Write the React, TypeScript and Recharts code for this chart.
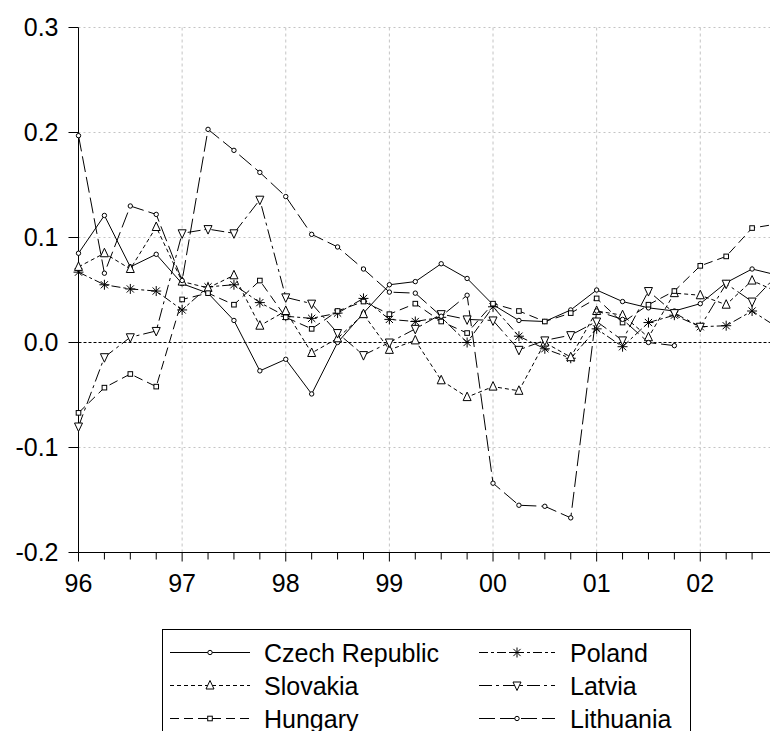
import { LineChart, Line, XAxis, YAxis, ReferenceLine } from 'recharts';

// quarterly observations, 1996Q1 .. 2002Q4
const quarters = [
  '96Q1', '96Q2', '96Q3', '96Q4', '97Q1', '97Q2', '97Q3', '97Q4',
  '98Q1', '98Q2', '98Q3', '98Q4', '99Q1', '99Q2', '99Q3', '99Q4',
  '00Q1', '00Q2', '00Q3', '00Q4', '01Q1', '01Q2', '01Q3', '01Q4',
  '02Q1', '02Q2', '02Q3', '02Q4',
];
const yearLabels = ['96', '97', '98', '99', '00', '01', '02'];
const yTicks = [-0.2, -0.1, 0, 0.1, 0.2, 0.3];

const czech = [
  0.085, 0.121, 0.072, 0.084, 0.056, 0.047, 0.021, -0.027,
  -0.016, -0.049, 0.0, 0.028, 0.055, 0.058, 0.075, 0.061,
  0.036, 0.021, 0.020, 0.031, 0.050, 0.039, 0.033, 0.030,
  0.037, 0.057, 0.070, 0.064,
];
const poland = [
  0.067, 0.055, 0.051, 0.049, 0.031, 0.053, 0.055, 0.038,
  0.025, 0.023, 0.028, 0.042, 0.022, 0.020, 0.024, 0.0,
  0.034, 0.006, -0.006, -0.015, 0.013, -0.004, 0.019, 0.026,
  0.015, 0.016, 0.030, 0.014,
];
const slovakia = [
  0.072, 0.085, 0.070, 0.110, 0.058, 0.052, 0.064, 0.016,
  0.030, -0.010, 0.004, 0.027, -0.007, 0.002, -0.036, -0.052,
  -0.042, -0.046, 0.0, -0.014, 0.030, 0.026, 0.005, 0.047,
  0.045, 0.036, 0.059, 0.048,
];
const latvia = [
  -0.080, -0.014, 0.005, 0.011, 0.104, 0.108, 0.104, 0.136,
  0.043, 0.037, 0.009, -0.012, 0.0, 0.013, 0.027, 0.022,
  0.021, -0.007, 0.002, 0.007, 0.020, 0.002, 0.049, 0.028,
  0.015, 0.056, 0.039, 0.065,
];
const hungary = [
  -0.067, -0.043, -0.030, -0.042, 0.041, 0.047, 0.036, 0.059,
  0.024, 0.013, 0.030, 0.039, 0.027, 0.037, 0.020, 0.009,
  0.037, 0.030, 0.020, 0.028, 0.042, 0.019, 0.036, 0.049,
  0.073, 0.082, 0.109, 0.113,
];
const lithuania = [
  0.197, 0.066, 0.130, 0.122, 0.059, 0.203, 0.183, 0.162,
  0.139, 0.103, 0.091, 0.070, 0.048, 0.047, 0.025, 0.045,
  -0.134, -0.155, -0.156, -0.167, 0.030, 0.022, 0.0, -0.003,
  null, null, null, null,
];

const FONT = 'Arial, "Liberation Sans", sans-serif';
const GRID = '#c4c4c4';

type Shape = 'circle' | 'square' | 'tri' | 'triDown' | 'star';

const SERIES: { key: string; name: string; values: (number | null)[]; dash?: string; shape: Shape }[] = [
  { key: 'czech', name: 'Czech Republic', values: czech, shape: 'circle' },
  { key: 'poland', name: 'Poland', values: poland, dash: '9 3 3 3', shape: 'star' },
  { key: 'slovakia', name: 'Slovakia', values: slovakia, dash: '4 3', shape: 'tri' },
  { key: 'latvia', name: 'Latvia', values: latvia, dash: '13 4 3 4', shape: 'triDown' },
  { key: 'hungary', name: 'Hungary', values: hungary, dash: '9 5', shape: 'square' },
  { key: 'lithuania', name: 'Lithuania', values: lithuania, dash: '16 5', shape: 'circle' },
];

const rows = quarters.map((q, i) => {
  const r: Record<string, any> = { i, q };
  SERIES.forEach(s => { r[s.key] = s.values[i]; });
  return r;
});

function Marker({ shape, cx, cy }: { shape: Shape; cx: number; cy: number }) {
  const st = { stroke: '#000', strokeWidth: 1, fill: '#fff' };
  switch (shape) {
    case 'circle':
      return <circle cx={cx} cy={cy} r={2.2} {...st} />;
    case 'square':
      return <rect x={cx - 2.3} y={cy - 2.3} width={4.6} height={4.6} {...st} />;
    case 'tri':
      return <polygon points={`${cx},${cy - 5} ${cx - 4},${cy + 3.5} ${cx + 4},${cy + 3.5}`} {...st} />;
    case 'triDown':
      return <polygon points={`${cx},${cy + 5} ${cx - 4},${cy - 3.5} ${cx + 4},${cy - 3.5}`} {...st} />;
    case 'star':
      return (
        <g stroke="#000" strokeWidth={1}>
          <line x1={cx - 5} y1={cy} x2={cx + 5} y2={cy} />
          <line x1={cx} y1={cy - 5} x2={cx} y2={cy + 5} />
          <line x1={cx - 3.6} y1={cy - 3.6} x2={cx + 3.6} y2={cy + 3.6} />
          <line x1={cx - 3.6} y1={cy + 3.6} x2={cx + 3.6} y2={cy - 3.6} />
        </g>
      );
  }
  return null;
}

function QuarterTick(props: any) {
  const { x, y, payload } = props;
  const i = payload.value as number;
  const isYear = i % 4 === 0;
  return (
    <g>
      <line x1={x} x2={x} y1={y} y2={y + (isYear ? 9 : 7)} stroke="#000" />
      {isYear && (
        <text x={x} y={y + 39} textAnchor="middle" fontSize={25} fontFamily={FONT} fill="#000">
          {yearLabels[i / 4]}
        </text>
      )}
    </g>
  );
}

function LegendBox() {
  const rowsY = [652, 685, 718];
  const cols = [
    { x1: 170, x2: 250, tx: 264 },
    { x1: 479, x2: 555, tx: 570 },
  ];
  return (
    <svg width={770} height={731} style={{ position: 'absolute', left: 0, top: 0, pointerEvents: 'none' }}>
      <rect x={162.5} y={629.5} width={528} height={130} fill="#fff" stroke="#000" />
      {SERIES.map((s, k) => {
        const c = cols[k % 2];
        const y = rowsY[Math.floor(k / 2)] + 0.5;
        const mx = (c.x1 + c.x2) / 2;
        return (
          <g key={s.key}>
            <line x1={c.x1} x2={c.x2} y1={y} y2={y} stroke="#000" strokeDasharray={s.dash} />
            <Marker shape={s.shape} cx={mx} cy={y} />
            <text x={c.tx} y={y + 9} fontSize={25} fontFamily={FONT} fill="#000">{s.name}</text>
          </g>
        );
      })}
    </svg>
  );
}

export default function App() {
  return (
    <div style={{ position: 'fixed', left: 0, top: 0, width: 770, height: 731, overflow: 'hidden', background: '#fff' }}>
      <LineChart width={800} height={620} data={rows} margin={{ top: 27.5, right: 22, left: 0, bottom: 0 }}>
        {yTicks.filter(v => v !== 0 && v !== -0.2).map(v => (
          <ReferenceLine key={`h${v}`} y={v} stroke={GRID} strokeDasharray="2 3" />
        ))}
        {[4, 8, 12, 16, 20, 24].map(v => (
          <ReferenceLine key={`v${v}`} x={v} stroke={GRID} strokeDasharray="3 3" />
        ))}
        <ReferenceLine y={0} stroke="#000" strokeDasharray="3 2" />
        <XAxis
          type="number"
          dataKey="i"
          domain={[0, 27]}
          ticks={quarters.map((_, i) => i)}
          interval={0}
          height={67.5}
          tickSize={0}
          tickMargin={0}
          tickLine={false}
          axisLine={{ stroke: '#000' }}
          tick={<QuarterTick />}
        />
        <YAxis
          type="number"
          domain={[-0.2, 0.3]}
          ticks={yTicks}
          width={78.5}
          tickSize={10}
          tickMargin={10}
          tickLine={{ stroke: '#000' }}
          axisLine={{ stroke: '#000' }}
          tickFormatter={(v: number) => v.toFixed(1)}
          tick={{ fill: '#000', fontSize: 25, fontFamily: FONT }}
        />
        {SERIES.map(s => (
          <Line
            key={s.key}
            dataKey={s.key}
            name={s.name}
            stroke="#000"
            strokeWidth={1}
            strokeDasharray={s.dash}
            isAnimationActive={false}
            connectNulls={false}
            dot={(p: any) =>
              p.cy == null || p.value == null ? <g key={p.index} /> : (
                <g key={p.index}><Marker shape={s.shape} cx={p.cx} cy={p.cy} /></g>
              )
            }
            activeDot={false}
          />
        ))}
      </LineChart>
      <LegendBox />
    </div>
  );
}
